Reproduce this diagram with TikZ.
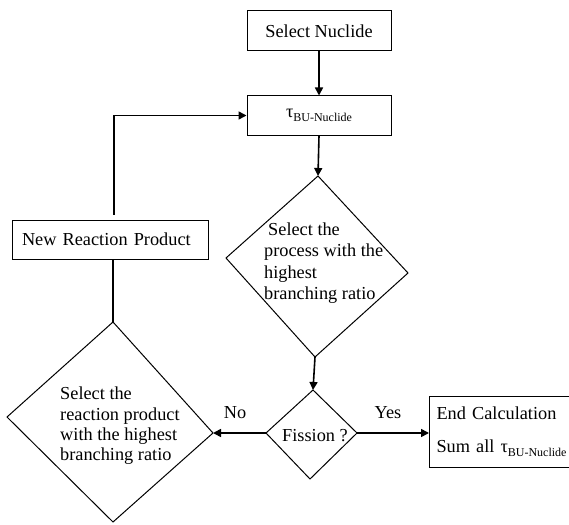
\documentclass[tikz,border=0pt]{standalone}
\usepackage{fontspec}
\setmainfont{Liberation Serif}
\usetikzlibrary{arrows.meta}
\newcommand{\taubu}{τ\raisebox{-0.4ex}{\fontsize{12}{14}\selectfont BU-Nuclide}}
\tikzset{
  boxnode/.style={draw, line width=1pt, minimum height=39pt, inner sep=0pt},
  shapeline/.style={draw, line width=1pt},
  conn/.style={line width=1.6pt, -{Triangle[length=8pt,width=8pt]}},
  plainline/.style={line width=1.2pt},
  lbl/.style={inner sep=0pt}
}
\begin{document}
\begin{tikzpicture}[x=1pt,y=-1pt,font=\fontsize{18.3}{21.3}\selectfont]
\useasboundingbox (0,0) rectangle (569,524);
% boxes
\node[boxnode, minimum width=144pt, minimum height=40pt] (sel) at (319,31) {Select Nuclide};
\node[boxnode, minimum width=144pt] (tau) at (319,115.5) {\taubu};
\node[boxnode, text width=176pt, inner xsep=10pt, align=left] (nrp) at (110,239.5) {New Reaction Product};
\node[boxnode, text width=135pt, inner xsep=7pt, align=left, minimum height=71pt, anchor=west] (endc) at (429,431.5) {End Calculation\\[12pt]Sum all \taubu};
% process diamond
\coordinate (pT) at (318,176);
\coordinate (pR) at (408,273);
\coordinate (pB) at (315,357);
\coordinate (pL) at (226,258);
\draw[shapeline] (pT) -- (pR) -- (pB) -- (pL) -- cycle;
\node[lbl, align=left, anchor=west] (ptxt) at (264,263) {\hspace{4pt}Select the\\process with the\\highest\\branching ratio};
% fission diamond
\coordinate (fT) at (313,390);
\coordinate (fR) at (357,433);
\coordinate (fB) at (310,479);
\coordinate (fL) at (266,433);
\draw[shapeline] (fT) -- (fR) -- (fB) -- (fL) -- cycle;
\node[lbl] (ftxt) at (315,436) {Fission ?};
% reaction product diamond
\coordinate (rT) at (113,322);
\coordinate (rR) at (213,433);
\coordinate (rB) at (113,522);
\coordinate (rL) at (7,417);
\draw[shapeline] (rT) -- (rR) -- (rB) -- (rL) -- cycle;
\node[lbl, align=left, anchor=west, font=\fontsize{18.3}{20.3}\selectfont] (rtxt) at (60,426) {Select the\\reaction product\\with the highest\\branching ratio};
% labels
\node[lbl] (yes) at (388,413) {Yes};
\node[lbl] (no) at (235,413) {No};
% connectors
\draw[conn] (sel) -- (tau);
\draw[conn] (tau.south) -- (pT);
\draw[conn] (pB) -- (fT);
\draw[conn] (fR) -- (fR -| endc.west);
\draw[conn] (fL) -- (rR);
\draw[plainline] (nrp.south -| rT) -- (rT);
\draw[conn] ([xshift=4pt,yshift=5pt]nrp.north) |- (tau.west);
\end{tikzpicture}
\end{document}
